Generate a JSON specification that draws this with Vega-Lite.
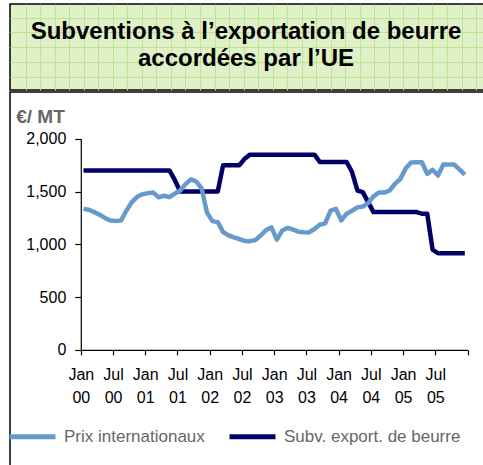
{
  "$schema": "https://vega.github.io/schema/vega-lite/v6.json",
  "padding": {"left": 7, "top": 3, "right": 0, "bottom": 0},
  "background": "white",
  "spacing": 0,
  "config": {
    "font": "Liberation Sans",
    "axis": {"grid": false, "labelFont": "Liberation Sans", "labelColor": "black", "domainColor": "black", "tickColor": "black"}
  },
  "vconcat": [
    {
      "width": 477,
      "height": 86,
      "view": {"fill": "#e0f1c8", "stroke": "black", "strokeWidth": 1.5},
      "data": {"values": [{"titre": "Subventions à l’exportation de beurre\naccordées par l’UE"}]},
      "mark": {"type": "text", "font": "Liberation Sans", "fontWeight": "bold", "fontSize": 24, "color": "black", "align": "center", "baseline": "alphabetic", "lineBreak": "\n", "lineHeight": 27.7},
      "encoding": {
        "text": {"field": "titre"},
        "x": {
          "datum": 236, "type": "quantitative",
          "scale": {"domain": [0, 477], "nice": false, "zero": false},
          "axis": {"title": null, "labels": false, "ticks": false, "domain": false, "grid": true, "gridColor": "#bfe29a", "gridWidth": 1,
            "values": [15.6, 30.1, 44.7, 59.2, 73.7, 88.3, 102.8, 117.3, 131.8, 146.4, 160.9, 175.4, 190.0, 204.5, 219.0, 233.6, 248.1, 262.6, 277.1, 291.7, 306.2, 320.7, 335.3, 349.8, 364.3, 378.9, 393.4, 407.9, 422.4, 437.0, 451.5, 466.0]}
        },
        "y": {
          "datum": 34.5, "type": "quantitative",
          "scale": {"domain": [0, 86], "nice": false, "zero": false, "reverse": true},
          "axis": {"title": null, "labels": false, "ticks": false, "domain": false, "grid": true, "gridColor": "#bfe29a", "gridWidth": 1,
            "values": [13.7, 28.5, 43.3, 58.1, 72.9]}
        }
      }
    },
    {
      "width": 477,
      "height": 377,
      "view": {"stroke": "black", "strokeWidth": 1.5, "fill": "white"},
      "data": {"values": [
        {"i":0,"s":"Subv. export. de beurre","v":1700},{"i":1,"s":"Subv. export. de beurre","v":1700},{"i":2,"s":"Subv. export. de beurre","v":1700},{"i":3,"s":"Subv. export. de beurre","v":1700},{"i":4,"s":"Subv. export. de beurre","v":1700},{"i":5,"s":"Subv. export. de beurre","v":1700},{"i":6,"s":"Subv. export. de beurre","v":1700},{"i":7,"s":"Subv. export. de beurre","v":1700},{"i":8,"s":"Subv. export. de beurre","v":1700},{"i":9,"s":"Subv. export. de beurre","v":1700},{"i":10,"s":"Subv. export. de beurre","v":1700},{"i":11,"s":"Subv. export. de beurre","v":1700},{"i":12,"s":"Subv. export. de beurre","v":1700},{"i":13,"s":"Subv. export. de beurre","v":1700},{"i":14,"s":"Subv. export. de beurre","v":1700},{"i":15,"s":"Subv. export. de beurre","v":1700},{"i":16,"s":"Subv. export. de beurre","v":1700},{"i":17,"s":"Subv. export. de beurre","v":1610},{"i":18,"s":"Subv. export. de beurre","v":1500},{"i":19,"s":"Subv. export. de beurre","v":1500},{"i":20,"s":"Subv. export. de beurre","v":1500},{"i":21,"s":"Subv. export. de beurre","v":1500},{"i":22,"s":"Subv. export. de beurre","v":1500},{"i":23,"s":"Subv. export. de beurre","v":1500},{"i":24,"s":"Subv. export. de beurre","v":1500},{"i":25,"s":"Subv. export. de beurre","v":1500},{"i":26,"s":"Subv. export. de beurre","v":1750},{"i":27,"s":"Subv. export. de beurre","v":1750},{"i":28,"s":"Subv. export. de beurre","v":1750},{"i":29,"s":"Subv. export. de beurre","v":1750},{"i":30,"s":"Subv. export. de beurre","v":1810},{"i":31,"s":"Subv. export. de beurre","v":1850},{"i":32,"s":"Subv. export. de beurre","v":1850},{"i":33,"s":"Subv. export. de beurre","v":1850},{"i":34,"s":"Subv. export. de beurre","v":1850},{"i":35,"s":"Subv. export. de beurre","v":1850},{"i":36,"s":"Subv. export. de beurre","v":1850},{"i":37,"s":"Subv. export. de beurre","v":1850},{"i":38,"s":"Subv. export. de beurre","v":1850},{"i":39,"s":"Subv. export. de beurre","v":1850},{"i":40,"s":"Subv. export. de beurre","v":1850},{"i":41,"s":"Subv. export. de beurre","v":1850},{"i":42,"s":"Subv. export. de beurre","v":1850},{"i":43,"s":"Subv. export. de beurre","v":1850},{"i":44,"s":"Subv. export. de beurre","v":1780},{"i":45,"s":"Subv. export. de beurre","v":1780},{"i":46,"s":"Subv. export. de beurre","v":1780},{"i":47,"s":"Subv. export. de beurre","v":1780},{"i":48,"s":"Subv. export. de beurre","v":1780},{"i":49,"s":"Subv. export. de beurre","v":1780},{"i":50,"s":"Subv. export. de beurre","v":1685},{"i":51,"s":"Subv. export. de beurre","v":1510},{"i":52,"s":"Subv. export. de beurre","v":1495},{"i":53,"s":"Subv. export. de beurre","v":1400},{"i":54,"s":"Subv. export. de beurre","v":1305},{"i":55,"s":"Subv. export. de beurre","v":1305},{"i":56,"s":"Subv. export. de beurre","v":1305},{"i":57,"s":"Subv. export. de beurre","v":1305},{"i":58,"s":"Subv. export. de beurre","v":1305},{"i":59,"s":"Subv. export. de beurre","v":1305},{"i":60,"s":"Subv. export. de beurre","v":1305},{"i":61,"s":"Subv. export. de beurre","v":1305},{"i":62,"s":"Subv. export. de beurre","v":1305},{"i":63,"s":"Subv. export. de beurre","v":1290},{"i":64,"s":"Subv. export. de beurre","v":1290},{"i":65,"s":"Subv. export. de beurre","v":950},{"i":66,"s":"Subv. export. de beurre","v":915},{"i":67,"s":"Subv. export. de beurre","v":915},{"i":68,"s":"Subv. export. de beurre","v":915},{"i":69,"s":"Subv. export. de beurre","v":915},{"i":70,"s":"Subv. export. de beurre","v":915},{"i":71,"s":"Subv. export. de beurre","v":915},
        {"i":0,"s":"Prix internationaux","v":1336},{"i":1,"s":"Prix internationaux","v":1328},{"i":2,"s":"Prix internationaux","v":1305},{"i":3,"s":"Prix internationaux","v":1280},{"i":4,"s":"Prix internationaux","v":1250},{"i":5,"s":"Prix internationaux","v":1226},{"i":6,"s":"Prix internationaux","v":1222},{"i":7,"s":"Prix internationaux","v":1226},{"i":8,"s":"Prix internationaux","v":1320},{"i":9,"s":"Prix internationaux","v":1400},{"i":10,"s":"Prix internationaux","v":1450},{"i":11,"s":"Prix internationaux","v":1475},{"i":12,"s":"Prix internationaux","v":1485},{"i":13,"s":"Prix internationaux","v":1490},{"i":14,"s":"Prix internationaux","v":1445},{"i":15,"s":"Prix internationaux","v":1460},{"i":16,"s":"Prix internationaux","v":1447},{"i":17,"s":"Prix internationaux","v":1480},{"i":18,"s":"Prix internationaux","v":1510},{"i":19,"s":"Prix internationaux","v":1570},{"i":20,"s":"Prix internationaux","v":1615},{"i":21,"s":"Prix internationaux","v":1595},{"i":22,"s":"Prix internationaux","v":1530},{"i":23,"s":"Prix internationaux","v":1300},{"i":24,"s":"Prix internationaux","v":1220},{"i":25,"s":"Prix internationaux","v":1210},{"i":26,"s":"Prix internationaux","v":1115},{"i":27,"s":"Prix internationaux","v":1085},{"i":28,"s":"Prix internationaux","v":1065},{"i":29,"s":"Prix internationaux","v":1050},{"i":30,"s":"Prix internationaux","v":1032},{"i":31,"s":"Prix internationaux","v":1030},{"i":32,"s":"Prix internationaux","v":1040},{"i":33,"s":"Prix internationaux","v":1083},{"i":34,"s":"Prix internationaux","v":1135},{"i":35,"s":"Prix internationaux","v":1160},{"i":36,"s":"Prix internationaux","v":1045},{"i":37,"s":"Prix internationaux","v":1130},{"i":38,"s":"Prix internationaux","v":1155},{"i":39,"s":"Prix internationaux","v":1140},{"i":40,"s":"Prix internationaux","v":1120},{"i":41,"s":"Prix internationaux","v":1115},{"i":42,"s":"Prix internationaux","v":1112},{"i":43,"s":"Prix internationaux","v":1145},{"i":44,"s":"Prix internationaux","v":1185},{"i":45,"s":"Prix internationaux","v":1198},{"i":46,"s":"Prix internationaux","v":1320},{"i":47,"s":"Prix internationaux","v":1336},{"i":48,"s":"Prix internationaux","v":1226},{"i":49,"s":"Prix internationaux","v":1290},{"i":50,"s":"Prix internationaux","v":1318},{"i":51,"s":"Prix internationaux","v":1350},{"i":52,"s":"Prix internationaux","v":1358},{"i":53,"s":"Prix internationaux","v":1390},{"i":54,"s":"Prix internationaux","v":1455},{"i":55,"s":"Prix internationaux","v":1490},{"i":56,"s":"Prix internationaux","v":1490},{"i":57,"s":"Prix internationaux","v":1510},{"i":58,"s":"Prix internationaux","v":1573},{"i":59,"s":"Prix internationaux","v":1620},{"i":60,"s":"Prix internationaux","v":1720},{"i":61,"s":"Prix internationaux","v":1775},{"i":62,"s":"Prix internationaux","v":1778},{"i":63,"s":"Prix internationaux","v":1778},{"i":64,"s":"Prix internationaux","v":1668},{"i":65,"s":"Prix internationaux","v":1706},{"i":66,"s":"Prix internationaux","v":1652},{"i":67,"s":"Prix internationaux","v":1756},{"i":68,"s":"Prix internationaux","v":1756},{"i":69,"s":"Prix internationaux","v":1756},{"i":70,"s":"Prix internationaux","v":1710},{"i":71,"s":"Prix internationaux","v":1659}
      ]},
      "mark": {"type": "line", "strokeWidth": 4.5, "strokeJoin": "round", "strokeCap": "butt"},
      "encoding": {
        "x": {
          "field": "i", "type": "quantitative",
          "scale": {"domain": [-0.5, 71.5], "range": [70.8, 457.5], "nice": false, "zero": false},
          "axis": {
            "title": null, "offset": -119.2, "orient": "bottom",
            "values": [-0.5, 5.5, 11.5, 17.5, 23.5, 29.5, 35.5, 41.5, 47.5, 53.5, 59.5, 65.5, 71.5],
            "labelExpr": "datum.value > 71 ? '' : [((datum.value + 0.5) % 12 == 0) ? 'Jan' : 'Jul', '0' + floor((datum.value + 0.5) / 12)]",
            "labelDx": 16.1, "labelAlign": "center", "labelBaseline": "top", "labelPadding": 12,
            "labelFontSize": 16, "labelLineHeight": 23, "labelOverlap": false, "labelFlush": false, "labelBound": false,
            "tickSize": 5, "domainWidth": 1.2, "tickWidth": 1.2
          }
        },
        "y": {
          "field": "v", "type": "quantitative",
          "scale": {"domain": [0, 2000], "range": [257.8, 46.8], "nice": false, "zero": false},
          "axis": {
            "offset": -70.8, "orient": "left",
            "values": [0, 500, 1000, 1500, 2000], "format": ",.0f",
            "labelFontSize": 16, "labelPadding": 9, "tickSize": 6, "domainWidth": 1.2, "tickWidth": 1.2,
            "title": "€/ MT", "titleFont": "Liberation Sans", "titleFontWeight": "bold", "titleFontSize": 19,
            "titleColor": "#666666", "titleAngle": 0, "titleAlign": "left", "titleBaseline": "alphabetic",
            "titleX": -65.1, "titleY": 30
          }
        },
        "color": {
          "field": "s", "type": "nominal",
          "scale": {"domain": ["Prix internationaux", "Subv. export. de beurre"], "range": ["#6699cc", "#000066"]},
          "legend": {
            "title": null, "orient": "none", "legendX": -3, "legendY": 407, "direction": "horizontal",
            "symbolType": "stroke", "symbolStrokeWidth": 5, "symbolSize": 2116, "labelFontSize": 17, "labelLimit": 400,
            "labelFont": "Liberation Sans", "labelColor": "#666666", "labelOffset": 6, "columnPadding": 14, "padding": 0
          }
        }
      }
    }
  ]
}
